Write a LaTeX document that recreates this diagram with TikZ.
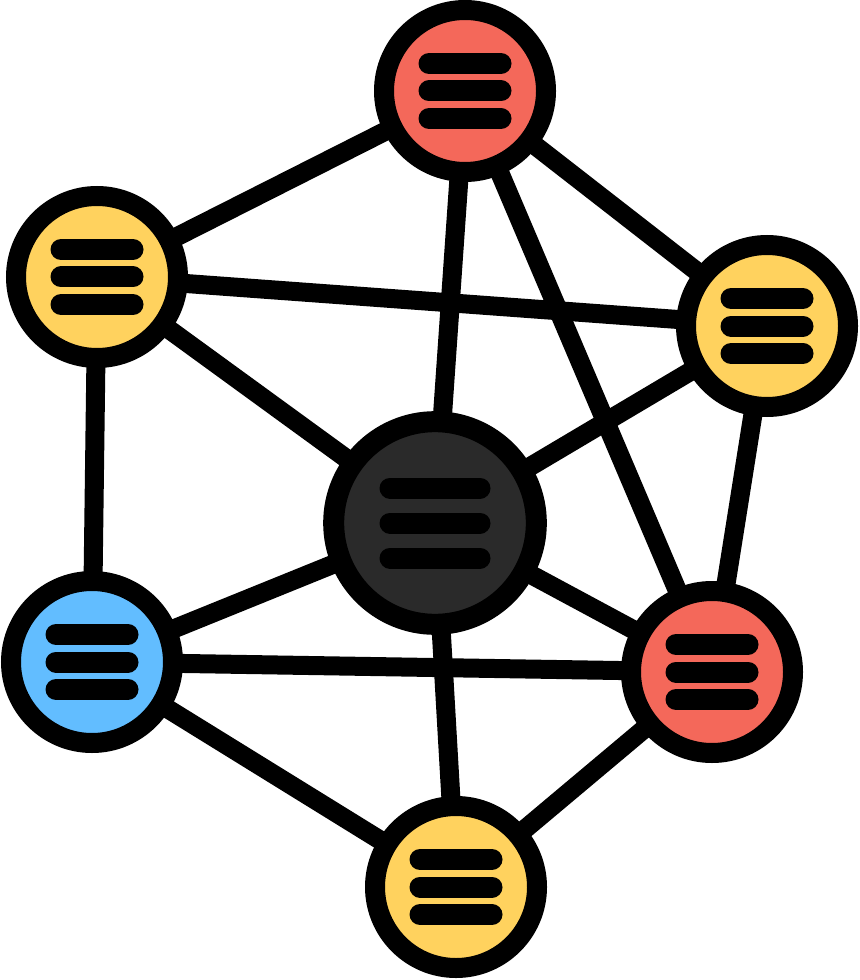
\documentclass[tikz,border=0pt]{standalone}
\usetikzlibrary{backgrounds}

\definecolor{hubred}{HTML}{F4685A}
\definecolor{hubyellow}{HTML}{FFD25E}
\definecolor{hubblue}{HTML}{62BDFF}
\definecolor{hubdark}{HTML}{2A2A2A}

\tikzset{
  hub/.style={circle,draw=black,line width=15pt,inner sep=0pt,minimum size=121.5pt},
  core/.style={circle,draw=black,line width=15.75pt,inner sep=0pt,minimum size=152pt,fill=hubdark},
  link/.style={line width=14.25pt},
  bar/.style={line width=15.75pt,line cap=round},
}

\begin{document}
\begin{tikzpicture}[x=0.75pt,y=-0.75pt]
    \useasboundingbox (0,0) rectangle (859,980);

    \node[core] (C) at (435, 523) {};

    \node[hub,fill=hubred] (N1) at (465, 91) {};
    \node[hub,fill=hubyellow] (N2) at (97, 277) {};
    \node[hub,fill=hubyellow] (N3) at (767, 326) {};
    \node[hub,fill=hubblue] (N4) at (92, 662) {};
    \node[hub,fill=hubred] (N5) at (712, 672) {};
    \node[hub,fill=hubyellow] (N6) at (456, 887) {};

    \begin{pgfonlayer}{background}
    \draw[link] (N1.center) -- (N2.center);
    \draw[link] (N1.center) -- (N3.center);
    \draw[link] (N1.center) -- (C.center);
    \draw[link] (N1.center) -- (N5.center);
    \draw[link] (N2.center) -- (N3.center);
    \draw[link] (N2.center) -- (C.center);
    \draw[link] (N2.center) -- (N4.center);
    \draw[link] (N3.center) -- (C.center);
    \draw[link] (N3.center) -- (N5.center);
    \draw[link] (C.center) -- (N4.center);
    \draw[link] (C.center) -- (N5.center);
    \draw[link] (C.center) -- (N6.center);
    \draw[link] (N4.center) -- (N5.center);
    \draw[link] (N4.center) -- (N6.center);
    \draw[link] (N5.center) -- (N6.center);
    \end{pgfonlayer}

    % three bars in every circle
    \foreach \n in {N1,N2,N3,N4,N5,N6}
      \foreach \dy in {-20.6,0,20.6}
        \draw[bar] ([xshift=-27pt,yshift=\dy pt]\n.center) -- ([xshift=27pt,yshift=\dy pt]\n.center);

    \foreach \dy in {-26.25,0,26.25}
      \draw[bar] ([xshift=-33.75pt,yshift=\dy pt]C.center) -- ([xshift=33.75pt,yshift=\dy pt]C.center);

\end{tikzpicture}
\end{document}
